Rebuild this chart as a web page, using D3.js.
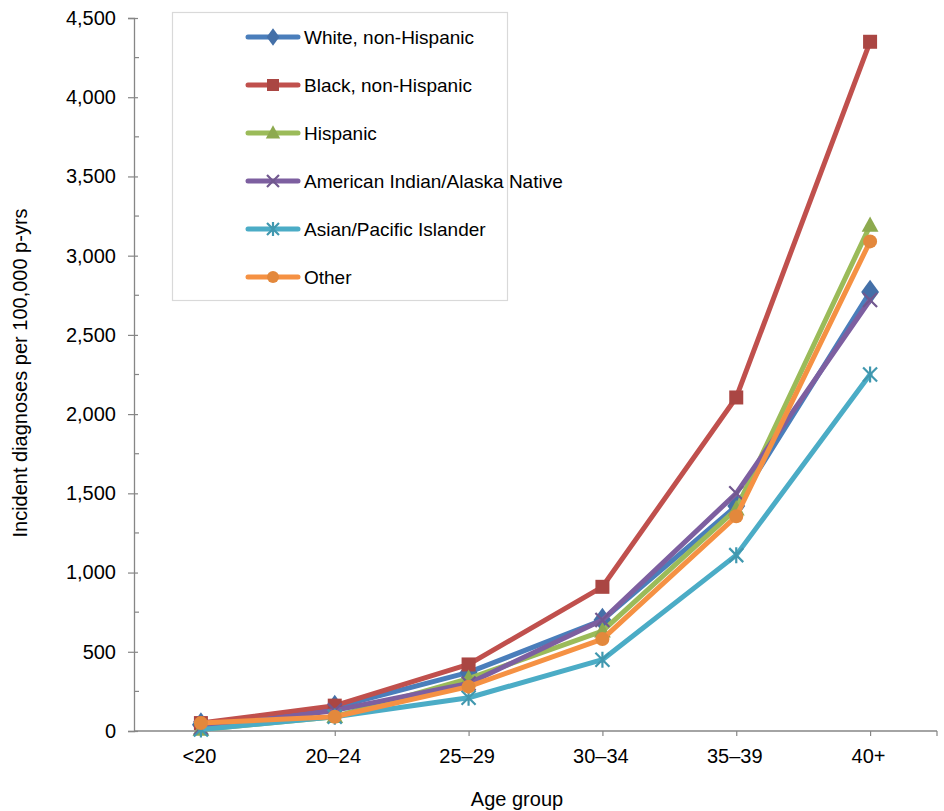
<!DOCTYPE html>
<html><head><meta charset="utf-8">
<script src="https://cdn.jsdelivr.net/npm/d3@7"></script>
<style>body{margin:0;background:#fff}text{font-family:"Liberation Sans",Arial,sans-serif;fill:#000}</style>
</head><body><svg id="c" width="944" height="811"></svg>
<script>
const categories = ["<20","20–24","25–29","30–34","35–39","40+"];
const seriesNames = ["White, non-Hispanic","Black, non-Hispanic","Hispanic","American Indian/Alaska Native","Asian/Pacific Islander","Other"];
const white    = [40, 150, 370, 700, 1420, 2770];
const black    = [50, 160, 420, 910, 2105, 4350];
const hispanic = [10, 90, 330, 630, 1400, 3190];
const aian     = [20, 130, 300, 700, 1500, 2720];
const asian    = [10, 90, 210, 450, 1110, 2250];
const other    = [50, 90, 280, 580, 1355, 3090];
const yTicks = [0,500,1000,1500,2000,2500,3000,3500,4000,4500];

const seriesValues = [white, black, hispanic, aian, asian, other];
const lineColors   = ["#4A7EBB","#C0504D","#9BBB59","#7D5FA0","#4BACC6","#F59143"];
const markerColors = ["#4470A8","#AA4643","#8DAA4F","#71588F","#4198AF","#E3883C"];
const markerTypes  = ["diamond","square","triangle","x","asterisk","circle"];

const FONT = "Liberation Sans, Arial, sans-serif";
const svg = d3.select("#c");
const L=134, R=937, T=18, B=731;
const x = d3.scalePoint().domain(categories).range([L,R]).padding(0.5);
const y = d3.scaleLinear().domain([0,4500]).range([B,T]);

const axisColor="#868686";
// minor y ticks (inside)
svg.append("g").selectAll("line").data(d3.range(250,4500,500)).join("line")
  .attr("x1",L).attr("x2",L+5).attr("y1",d=>y(d)).attr("y2",d=>y(d)).attr("stroke",axisColor).attr("stroke-width",1.2);
const yAxis = d3.axisLeft(y).tickValues(yTicks).tickFormat(d3.format(",")).tickSize(6);
const ya = svg.append("g").attr("transform",`translate(${L},0)`).call(yAxis);
ya.select(".domain").attr("stroke",axisColor).attr("stroke-width",1.3);
ya.selectAll(".tick line").attr("stroke",axisColor).attr("stroke-width",1.2).attr("x2",-6).attr("x1",4);
ya.selectAll(".tick text").style("font-size","20px").style("font-family",FONT).attr("fill","#000").attr("x",-18);

const xAxis = d3.axisBottom(x).tickSize(5).tickPadding(13);
const xa = svg.append("g").attr("transform",`translate(0,${B})`).call(xAxis);
xa.select(".domain").attr("stroke",axisColor).attr("stroke-width",1.3).attr("d",`M${L},0H${R}`);
xa.selectAll(".tick line").attr("stroke",axisColor).attr("stroke-width",1.2);
xa.append("line").attr("x1",R).attr("x2",R).attr("y1",0).attr("y2",5).attr("stroke",axisColor).attr("stroke-width",1.2);
xa.selectAll(".tick text").style("font-size","20px").style("font-family",FONT).attr("fill","#000").attr("dx",-2);

svg.append("text").attr("x",517).attr("y",806).attr("text-anchor","middle").style("font-size","20px").text("Age group");
svg.append("text").attr("transform","translate(27,373) rotate(-90)").attr("text-anchor","middle").style("font-size","20px").text("Incident diagnoses per 100,000 p-yrs");

function drawMarker(sel, type, color, size){
  const s=size;
  if(type==="diamond") sel.append("path").attr("d",d3.symbol(d3.symbolDiamond, s*s*0.9)()).attr("fill",color).attr("transform","scale(1.25,1)");
  else if(type==="square") sel.append("rect").attr("x",-s/2).attr("y",-s/2).attr("width",s).attr("height",s).attr("fill",color);
  else if(type==="triangle") sel.append("path").attr("d",`M0,${-s*0.65}L${s*0.6},${s*0.45}L${-s*0.6},${s*0.45}Z`).attr("fill",color);
  else if(type==="circle") sel.append("circle").attr("r",s/2).attr("fill",color);
  else if(type==="x"){
    const h=s/2;
    sel.append("path").attr("d",`M${-h},${-h}L${h},${h}M${-h},${h}L${h},${-h}`).attr("stroke",color).attr("stroke-width",2.2);
  } else if(type==="asterisk"){
    const h=s/2;
    sel.append("path").attr("d",`M${-h},${-h}L${h},${h}M${-h},${h}L${h},${-h}M0,${-h-1}V${h+1}`).attr("stroke",color).attr("stroke-width",2.2);
  }
}

const line = d3.line().x((d,i)=>x(categories[i])).y(d=>y(d));
seriesValues.forEach((vals,si)=>{
  svg.append("path").attr("d",line(vals)).attr("fill","none").attr("stroke",lineColors[si]).attr("stroke-width",5).attr("stroke-linejoin","round").attr("stroke-linecap","round");
  vals.forEach((v,i)=>{
    const m = svg.append("g").attr("transform",`translate(${x(categories[i])},${y(v)})`);
    drawMarker(m, markerTypes[si], markerColors[si], 14);
  });
});

// legend
const lg = svg.append("g");
lg.append("rect").attr("x",172.5).attr("y",12.5).attr("width",335).attr("height",288).attr("fill","#fff").attr("stroke","#D9D9D9").attr("stroke-width",1.2);
seriesNames.forEach((nm,si)=>{
  const yy = 37 + si*48;
  lg.append("line").attr("x1",248).attr("x2",298).attr("y1",yy).attr("y2",yy).attr("stroke",lineColors[si]).attr("stroke-width",5).attr("stroke-linecap","round");
  const m = lg.append("g").attr("transform",`translate(273,${yy})`);
  drawMarker(m, markerTypes[si], markerColors[si], si===0?10:12);
  lg.append("text").attr("x",304).attr("y",yy+7).style("font-size","19px").text(nm);
});
</script></body></html>
